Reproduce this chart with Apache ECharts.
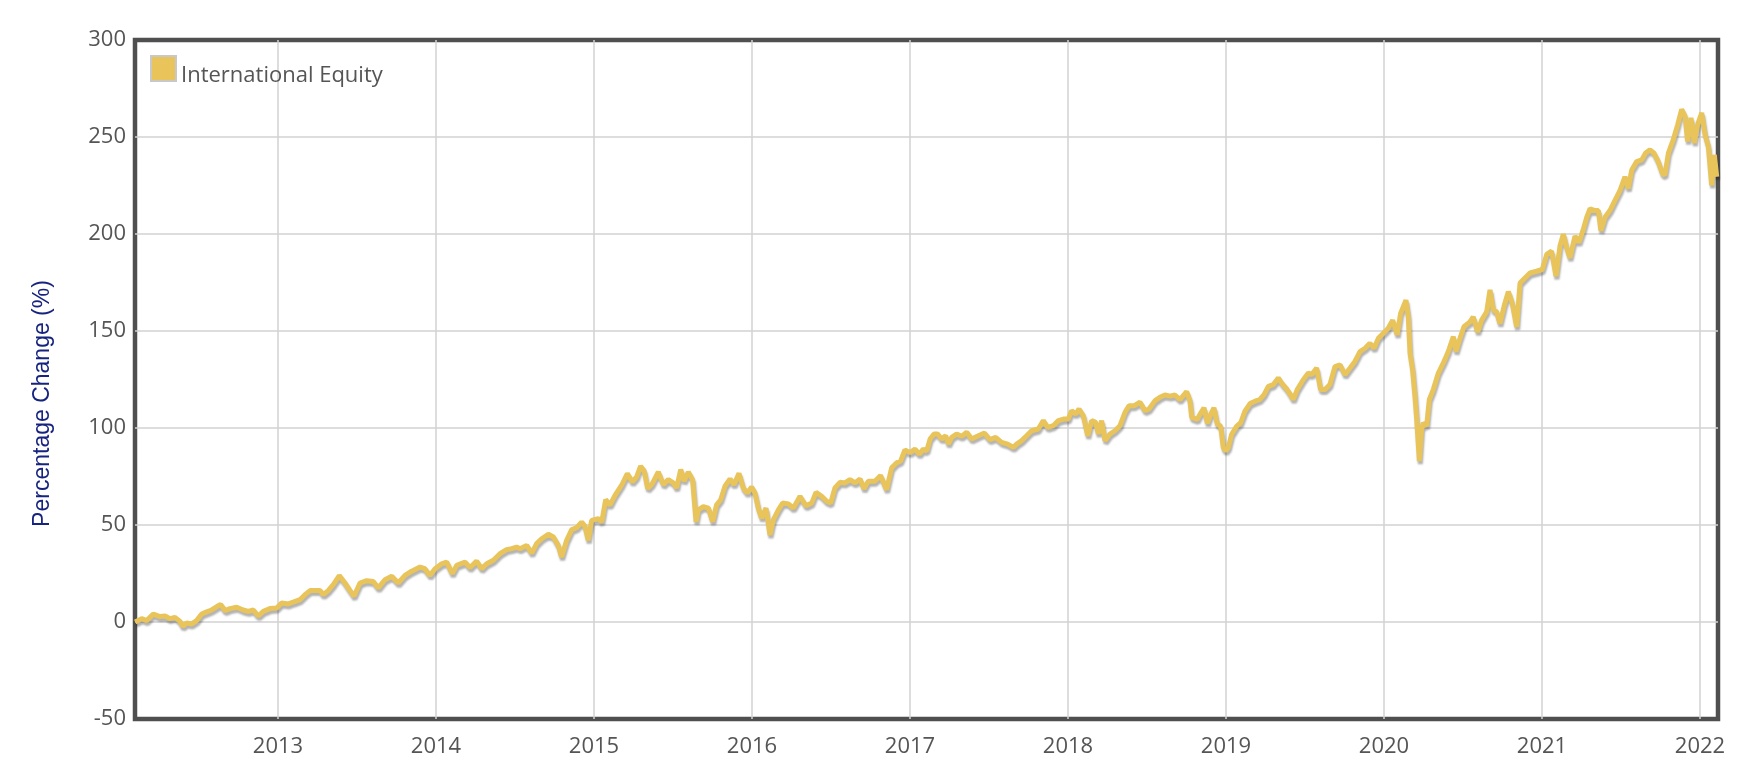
<!DOCTYPE html>
<html>
<head>
<meta charset="utf-8">
<script src="https://cdn.jsdelivr.net/npm/echarts@6/dist/echarts.min.js"></script>
<style>
html,body{margin:0;padding:0;background:#fff;}
#chart{width:1750px;height:766px;}
</style>
</head>
<body>
<div id="chart"></div>
<script>
// Time (decimal year) of each reading
const years = [
2012.096,2012.137,2012.169,2012.211,2012.253,2012.285,2012.316,2012.348,2012.380,2012.397,
2012.422,2012.454,2012.485,2012.517,2012.549,2012.580,2012.616,2012.637,2012.665,2012.696,
2012.739,2012.780,2012.812,2012.844,2012.875,2012.907,2012.949,2012.992,2013.023,2013.065,
2013.097,2013.139,2013.171,2013.203,2013.234,2013.266,2013.287,2013.318,2013.350,2013.388,
2013.424,2013.456,2013.481,2013.519,2013.561,2013.603,2013.635,2013.677,2013.720,2013.761,
2013.804,2013.846,2013.899,2013.930,2013.962,2013.994,2014.036,2014.068,2014.103,2014.131,
2014.184,2014.215,2014.257,2014.289,2014.321,2014.363,2014.405,2014.447,2014.479,2014.511,
2014.532,2014.574,2014.606,2014.637,2014.669,2014.711,2014.743,2014.774,2014.795,2014.827,
2014.859,2014.890,2014.922,2014.943,2014.964,2014.985,2015.027,2015.049,2015.074,2015.101,
2015.133,2015.175,2015.211,2015.243,2015.270,2015.295,2015.318,2015.340,2015.369,2015.407,
2015.439,2015.470,2015.502,2015.523,2015.549,2015.570,2015.597,2015.624,2015.646,2015.660,
2015.692,2015.724,2015.751,2015.776,2015.802,2015.829,2015.861,2015.886,2015.918,2015.945,
2015.970,2015.998,2016.019,2016.040,2016.061,2016.089,2016.114,2016.135,2016.167,2016.194,
2016.230,2016.262,2016.304,2016.342,2016.378,2016.405,2016.441,2016.473,2016.498,2016.525,
2016.557,2016.589,2016.620,2016.652,2016.684,2016.709,2016.736,2016.778,2016.814,2016.852,
2016.884,2016.916,2016.941,2016.968,2017.000,2017.032,2017.059,2017.084,2017.106,2017.127,
2017.152,2017.175,2017.200,2017.226,2017.243,2017.264,2017.295,2017.327,2017.359,2017.390,
2017.433,2017.471,2017.506,2017.542,2017.580,2017.618,2017.654,2017.675,2017.707,2017.738,
2017.770,2017.812,2017.844,2017.871,2017.907,2017.939,2017.971,2018.002,2018.023,2018.049,
2018.070,2018.097,2018.125,2018.150,2018.175,2018.192,2018.213,2018.234,2018.266,2018.297,
2018.329,2018.361,2018.386,2018.420,2018.456,2018.487,2018.513,2018.551,2018.582,2018.614,
2018.646,2018.677,2018.709,2018.751,2018.772,2018.783,2018.818,2018.835,2018.861,2018.882,
2018.903,2018.924,2018.945,2018.966,2018.983,2018.998,2019.015,2019.036,2019.068,2019.093,
2019.120,2019.152,2019.184,2019.215,2019.241,2019.268,2019.300,2019.331,2019.352,2019.380,
2019.401,2019.426,2019.451,2019.489,2019.521,2019.542,2019.574,2019.599,2019.627,2019.658,
2019.690,2019.722,2019.753,2019.785,2019.816,2019.848,2019.880,2019.911,2019.937,2019.964,
2019.996,2020.027,2020.055,2020.084,2020.105,2020.139,2020.154,2020.165,2020.181,2020.196,
2020.207,2020.224,2020.238,2020.249,2020.270,2020.287,2020.312,2020.344,2020.375,2020.407,
2020.439,2020.456,2020.481,2020.506,2020.544,2020.565,2020.593,2020.618,2020.650,2020.671,
2020.692,2020.713,2020.734,2020.762,2020.787,2020.812,2020.840,2020.861,2020.892,2020.924,
2020.966,2021.002,2021.030,2021.061,2021.089,2021.114,2021.135,2021.156,2021.177,2021.209,
2021.234,2021.262,2021.283,2021.304,2021.335,2021.357,2021.373,2021.399,2021.430,2021.462,
2021.494,2021.525,2021.546,2021.568,2021.599,2021.631,2021.656,2021.684,2021.709,2021.736,
2021.762,2021.778,2021.800,2021.831,2021.859,2021.884,2021.905,2021.922,2021.943,2021.964,
2021.985,2022.011,2022.032,2022.053,2022.074,2022.091,2022.106
];
// Percentage change (%) readings
const values = [
0.0,1.7,0.7,4.1,2.8,3.1,1.7,2.4,0.3,-2.2,
-0.5,-1.0,0.7,4.1,5.2,6.2,8.1,9.0,5.9,6.9,
7.6,6.2,5.5,6.2,3.1,5.5,6.9,7.2,9.8,9.3,
10.3,11.5,14.1,16.2,16.2,16.2,14.1,16.2,19.3,23.9,
20.1,16.2,13.3,20.1,21.3,20.9,17.6,21.8,23.6,20.1,
24.0,26.2,28.3,27.5,24.0,27.5,30.0,30.9,24.9,29.2,
30.9,28.0,31.4,27.5,30.0,31.8,35.2,37.3,37.8,38.6,
37.8,39.5,35.5,40.4,42.9,45.2,43.8,39.5,33.5,42.1,
47.6,48.6,51.5,49.3,42.1,52.4,53.3,51.5,63.1,60.2,
65.3,70.5,76.5,72.2,74.8,80.3,77.9,68.8,71.3,77.4,
70.8,73.4,71.7,69.1,78.6,72.6,77.3,73.4,51.7,57.8,
59.5,58.7,51.7,60.4,63.0,70.0,73.8,70.8,76.6,69.1,
66.5,69.6,66.5,58.7,53.5,58.7,44.8,52.6,57.8,61.3,
60.9,58.7,64.8,59.9,61.3,66.8,64.8,62.2,61.3,69.1,
72.0,71.7,73.4,71.7,73.8,68.6,72.6,72.6,75.5,68.2,
79.5,82.1,83.0,88.7,87.3,89.1,86.5,89.1,88.2,94.3,
96.9,96.9,94.3,96.0,91.7,95.2,96.9,95.7,97.8,94.3,
96.0,97.4,94.0,95.2,92.6,91.7,90.0,91.7,93.5,96.0,
98.6,99.5,103.8,100.3,101.2,103.8,104.6,104.6,109.0,107.2,
109.8,106.4,96.0,103.8,102.9,96.9,103.8,93.5,96.9,98.6,
101.2,108.1,111.5,111.5,113.3,109.0,109.8,114.1,115.8,117.0,
116.4,117.0,114.6,118.8,114.1,105.5,104.4,107.0,110.4,102.4,
107.0,110.4,101.9,101.0,89.9,88.2,89.9,96.8,101.0,102.7,
108.7,112.6,113.8,114.7,117.2,121.5,122.4,125.8,123.2,120.6,
118.1,114.7,119.8,124.9,128.3,127.5,130.9,119.8,119.8,122.4,
131.7,132.6,127.5,130.9,134.3,139.4,141.1,143.7,141.1,146.2,
148.8,151.4,155.6,148.0,159.0,165.9,157.3,138.6,130.0,116.4,
104.4,83.0,99.3,102.7,101.0,114.7,119.8,128.3,133.4,139.4,
147.1,139.4,146.2,152.2,154.7,157.3,149.5,155.6,159.9,171.2,
160.8,159.9,153.8,163.4,170.3,164.3,152.1,174.7,177.3,179.9,
180.8,181.7,189.5,191.2,178.2,193.8,199.9,193.0,187.7,199.0,
195.6,202.5,208.6,213.0,212.1,212.1,201.7,208.6,212.1,217.3,
222.5,229.5,223.4,233.0,237.3,238.2,241.7,243.4,241.7,237.3,
231.2,230.3,241.7,248.6,256.4,264.3,260.8,247.7,259.9,246.9,
256.4,262.5,251.2,245.1,225.1,240.8,229.5
];
const seriesName = 'International Equity';
const yAxisTitle = 'Percentage Change (%)';
const xMin = 2012.095, xMax = 2022.114;
const yMin = -50, yMax = 300, yStep = 50;

const data = years.map((y, i) => [y, values[i]]);
const lineColor = '#E8C45A';
const gridLine = {color: '#d2d2d2', width: 1.5};

const chart = echarts.init(document.getElementById('chart'), null, {renderer: 'canvas'});
chart.setOption({
  animation: false,
  backgroundColor: '#ffffff',
  grid: {
    left: 135, right: 32, top: 40, bottom: 47,
    show: true, borderColor: '#4f4f4f', borderWidth: 4.5, backgroundColor: 'transparent'
  },
  legend: {
    left: 150, top: 55, padding: 0,
    itemWidth: 25, itemHeight: 25, itemGap: 10,
    data: [{
      name: seriesName, icon: 'rect',
      itemStyle: {color: lineColor, borderColor: '#c8c8c8', borderWidth: 2}
    }],
    formatter: '{t|{name}}',
    textStyle: {
      fontFamily: 'Open Sans', fontSize: 22, color: '#555555',
      rich: {t: {fontFamily: 'Open Sans', fontSize: 22, color: '#555555', padding: [14, 0, 0, 0]}}
    }
  },
  xAxis: {
    type: 'value', min: xMin, max: xMax, splitNumber: 10,
    axisLine: {show: false}, axisTick: {show: false},
    splitLine: {show: true, showMinLine: false, showMaxLine: false, lineStyle: gridLine},
    axisLabel: {
      margin: 17, fontFamily: 'Open Sans', fontSize: 22, color: '#555555',
      formatter: v => Math.abs(v - Math.round(v)) < 1e-6 ? String(Math.round(v)) : ''
    }
  },
  yAxis: {
    type: 'value', min: yMin, max: yMax, interval: yStep,
    name: yAxisTitle, nameLocation: 'middle', nameGap: 81,
    nameTextStyle: {fontFamily: 'Liberation Sans, Arial', fontSize: 23, color: '#16237f', padding: [0, 48, 0, 0]},
    axisLine: {show: false}, axisTick: {show: false},
    splitLine: {show: true, showMinLine: false, showMaxLine: false, lineStyle: gridLine},
    axisLabel: {margin: 9, fontFamily: 'Open Sans', fontSize: 22, color: '#555555'}
  },
  series: [{
    name: seriesName, type: 'line', data: data,
    showSymbol: false, symbol: 'none',
    itemStyle: {color: lineColor},
    lineStyle: {
      color: lineColor, width: 5,
      shadowColor: 'rgba(0,0,0,0.3)', shadowBlur: 2, shadowOffsetX: 1, shadowOffsetY: 3
    }
  }]
});
</script>
</body>
</html>
